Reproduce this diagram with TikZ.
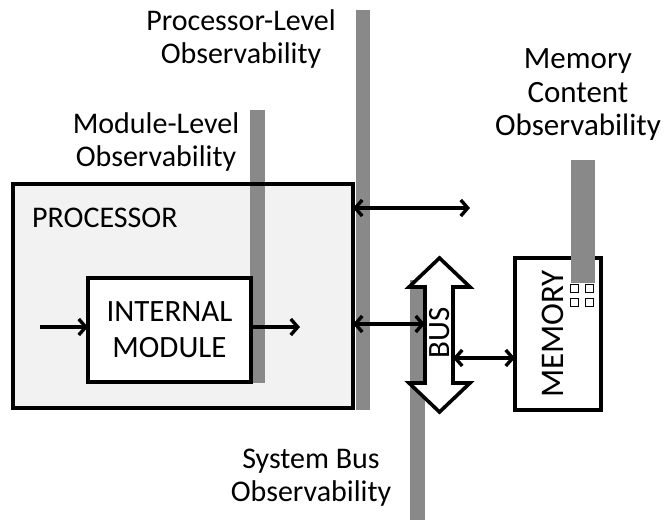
\documentclass[tikz,border=0pt]{standalone}
\usepackage{fontspec}
\setmainfont{Carlito}
\usetikzlibrary{arrows.meta}
\definecolor{barg}{HTML}{898989}
\definecolor{procfill}{HTML}{F2F2F2}
\begin{document}
\begin{tikzpicture}[x=1pt,y=-1pt,
  bar/.style={fill=barg,draw=none},
  boxline/.style={draw=black,line width=3.6pt},
  conn/.style={line width=3.4pt,{Straight Barb[length=7pt,width=16pt]}-{Straight Barb[length=7pt,width=16pt]}},
  oneway/.style={line width=3.4pt,-{Straight Barb[length=7pt,width=16pt]}},
  lbl/.style={font=\fontsize{30}{33}\selectfont,align=center,inner sep=0pt},
  boxtxt/.style={font=\fontsize{31}{36}\selectfont,align=center,inner sep=0pt}]
\useasboundingbox (0,0) rectangle (667,520);

% processor box (fill first)
\node[fill=procfill,minimum width=340pt,minimum height=224pt,inner sep=0pt,outer sep=0pt] (proc) at (183,296) {};
% module-level bar
\fill[bar] (250,110) rectangle (265,383);
\draw[boxline] (proc.north west) rectangle (proc.south east);
\node[lbl,anchor=west] (proclbl) at (32,218) {PROCESSOR};

% internal module
\node[boxline,fill=white,minimum width=163pt,minimum height=104pt,inner sep=0pt,outer sep=0pt] (mod) at (169.5,330) {};
\node[boxtxt] (modlbl) at (mod.center) {INTERNAL\\MODULE};
\coordinate (inS) at (40,327);
\coordinate (outE) at (300,327);
\draw[oneway] (inS) -- (mod.west |- inS);
\draw[oneway] (mod.east |- outE) -- (outE);

% processor-level bar
\fill[bar] (356,10) rectangle (370,410);

% system bus bar
\fill[bar] (410,280) rectangle (425,520);

% bus double arrow
\draw[line width=3.6pt,fill=white,line join=miter]
  (439.5,258) -- (470,287) -- (453,287) -- (453,383) -- (470,383) -- (439.5,412)
  -- (409,383) -- (425,383) -- (425,287) -- (409,287) -- cycle;
\node[boxtxt,rotate=90] (buslbl) at (439.5,333) {BUS};
\coordinate (busL) at (425,324);
\coordinate (busR) at (453,358);

% memory box
\node[boxline,fill=white,minimum width=86pt,minimum height=152pt,inner sep=0pt,outer sep=0pt] (mem) at (558,334) {};
\node[boxtxt,rotate=90,font=\fontsize{33}{36}\selectfont] (memlbl) at (553,334) {MEMORY};
\foreach \cx/\cy in {574.5/288.5,589.5/288.5,574.5/302.5,589.5/302.5}
  \draw[line width=1.1pt] (\cx-3.8,\cy-3.8) rectangle (\cx+3.8,\cy+3.8);
% memory content bar
\fill[bar] (571,160) rectangle (595,283);

% connectors
\coordinate (topE) at (470,208);
\draw[conn] (proc.east |- topE) -- (topE);
\draw[conn] (proc.east |- busL) -- (busL);
\draw[conn] (busR) -- (mem.west |- busR);

% labels
\node[lbl] (plbl) at (241,38.5) {Processor-Level\\Observability};
\node[lbl] (mlbl) at (156,141.5) {Module-Level\\Observability};
\node[lbl,font=\fontsize{31}{33.5}\selectfont] (clbl) at (578,95) {Memory\\Content\\Observability};
\node[lbl] (slbl) at (311,477.5) {System Bus\\Observability};
\end{tikzpicture}
\end{document}
